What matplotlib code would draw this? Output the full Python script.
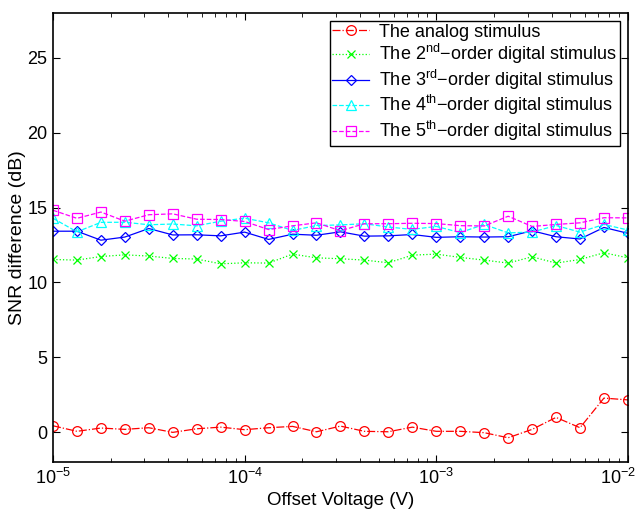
import numpy as np
import matplotlib
matplotlib.use('Agg')
import matplotlib.pyplot as plt
from matplotlib.ticker import FixedLocator, FixedFormatter

plt.rcParams['font.family'] = ['Liberation Sans', 'DejaVu Sans']
plt.rcParams['mathtext.fontset'] = 'custom'
plt.rcParams['mathtext.rm'] = 'Liberation Sans'
plt.rcParams['mathtext.it'] = 'Liberation Sans:italic'
plt.rcParams['mathtext.bf'] = 'Liberation Sans:bold'

# 数据: 25 offset voltages, 8 per decade
offset_v = np.logspace(-5, -2, 25)

analog = [0.42, 0.05, 0.27, 0.18, 0.29, -0.02, 0.22, 0.33, 0.16, 0.29, 0.38, 0.02, 0.40,
          0.05, 0.02, 0.33, 0.05, 0.05, -0.04, -0.38, 0.18, 0.98, 0.29, 2.27, 2.15]
order2 = [11.53, 11.49, 11.73, 11.84, 11.76, 11.60, 11.56, 11.24, 11.31, 11.29, 11.89, 11.64, 11.58,
          11.49, 11.31, 11.82, 11.89, 11.67, 11.49, 11.29, 11.71, 11.29, 11.53, 11.98, 11.64]
order3 = [13.42, 13.42, 12.82, 13.03, 13.60, 13.17, 13.18, 13.11, 13.36, 12.87, 13.22, 13.15, 13.38,
          13.09, 13.11, 13.20, 13.01, 13.05, 13.03, 13.05, 13.45, 13.05, 12.90, 13.67, 13.28]
order4 = [14.28, 13.38, 14.01, 14.02, 13.85, 13.90, 13.78, 14.09, 14.29, 13.98, 13.47, 13.80, 13.84,
          13.92, 13.70, 13.54, 13.74, 13.33, 13.87, 13.31, 13.36, 13.80, 13.36, 13.87, 13.50]
order5 = [14.82, 14.28, 14.70, 14.09, 14.52, 14.58, 14.22, 14.20, 14.07, 13.53, 13.78, 13.98, 13.45,
          13.92, 13.92, 13.95, 13.93, 13.79, 13.77, 14.42, 13.74, 13.87, 13.98, 14.32, 14.31]

labels = ['The analog stimulus',
          r'The 2$^{\mathrm{nd}}$−order digital stimulus',
          r'The 3$^{\mathrm{rd}}$−order digital stimulus',
          r'The 4$^{\mathrm{th}}$−order digital stimulus',
          r'The 5$^{\mathrm{th}}$−order digital stimulus']

xticks = [1e-5, 1e-4, 1e-3, 1e-2]
xticklabels = [r'$10^{-5}$', r'$10^{-4}$', r'$10^{-3}$', r'$10^{-2}$']

# 绘图
fig = plt.figure(figsize=(6.44, 5.13), dpi=100)
ax = fig.add_axes([0.0823, 0.0994, 0.8927, 0.8753])

mk = dict(markerfacecolor='none', markeredgewidth=0.9, linewidth=0.9)
ax.semilogx(offset_v, analog, '-.', color='#ff0000', marker='o', markersize=7, label=labels[0], **mk)
ax.semilogx(offset_v, order2, ':', color='#00ff00', marker='x', markersize=6, label=labels[1], **mk)
ax.semilogx(offset_v, order3, '-', color='#0000ff', marker='D', markersize=5.5, label=labels[2], **mk)
ax.semilogx(offset_v, order4, '--', color='#00ffff', marker='^', markersize=7, label=labels[3], **mk)
ax.semilogx(offset_v, order5, '--', color='#ff00ff', marker='s', markersize=6.5, label=labels[4], **mk)

ax.set_xlim(xticks[0], xticks[-1])
ax.set_ylim(-2, 28)
ax.set_yticks([0, 5, 10, 15, 20, 25])
ax.xaxis.set_major_locator(FixedLocator(xticks))
# last label is drawn by hand so it stays inside the figure (like MATLAB does)
ax.xaxis.set_major_formatter(FixedFormatter(xticklabels[:-1] + ['']))
ax.annotate(xticklabels[-1], xy=(xticks[-1], 0), xycoords=('data', 'axes fraction'),
            xytext=(-7, -4), textcoords='offset points', ha='center', va='top', fontsize=13)

ax.set_xlabel('Offset Voltage (V)', fontsize=13.5, labelpad=3)
ax.set_ylabel('SNR difference (dB)', fontsize=14, labelpad=1)

for s in ax.spines.values():
    s.set_linewidth(1.2)
ax.tick_params(which='both', direction='in', top=True, right=True, labelsize=13)
ax.tick_params(which='major', length=5, width=0.8, pad=4)
ax.tick_params(which='minor', length=3, width=0.6)

leg = ax.legend(loc='upper right', fontsize=13, frameon=True, fancybox=False,
                edgecolor='black', framealpha=1, handlelength=2.0, handletextpad=0.6,
                labelspacing=0.08, borderpad=0.15, borderaxespad=0.45)
leg.get_frame().set_linewidth(1.0)

fig.savefig('out.png', dpi=100)
